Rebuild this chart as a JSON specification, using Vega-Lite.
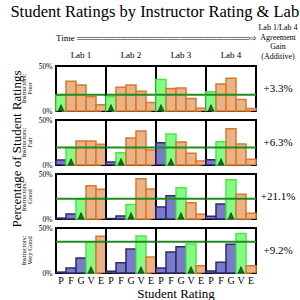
{
  "$schema": "https://vega.github.io/schema/vega-lite/v6.json",
  "padding": {"left": 10, "right": 2, "top": 3, "bottom": 2},
  "bounds": "flush",
  "config": {
    "font": "Liberation Serif",
    "view": {"stroke": "black", "strokeWidth": 2},
    "axis": {"labelFont": "Liberation Serif", "titleFont": "Liberation Serif", "titleFontWeight": "normal", "labelColor": "black", "titleColor": "black"},
    "header": {"labelFont": "Liberation Serif", "titleFont": "Liberation Serif", "titleFontWeight": "normal", "labelColor": "black", "titleColor": "black"}
  },
  "title": {"text": "Student Ratings by Instructor Rating & Lab", "font": "Liberation Serif", "fontSize": 16.5, "fontWeight": "normal", "color": "black", "anchor": "middle", "offset": 3},
  "data": {"values": [
    {"instructor": "Poor", "lab": "Lab 1", "rating": "P", "pct": 18},
    {"instructor": "Poor", "lab": "Lab 1", "rating": "F", "pct": 33},
    {"instructor": "Poor", "lab": "Lab 1", "rating": "G", "pct": 29},
    {"instructor": "Poor", "lab": "Lab 1", "rating": "V", "pct": 16},
    {"instructor": "Poor", "lab": "Lab 1", "rating": "E", "pct": 7},
    {"instructor": "Poor", "lab": "Lab 2", "rating": "P", "pct": 16},
    {"instructor": "Poor", "lab": "Lab 2", "rating": "F", "pct": 26.5},
    {"instructor": "Poor", "lab": "Lab 2", "rating": "G", "pct": 29},
    {"instructor": "Poor", "lab": "Lab 2", "rating": "V", "pct": 22},
    {"instructor": "Poor", "lab": "Lab 2", "rating": "E", "pct": 9.5},
    {"instructor": "Poor", "lab": "Lab 3", "rating": "P", "pct": 35},
    {"instructor": "Poor", "lab": "Lab 3", "rating": "F", "pct": 25},
    {"instructor": "Poor", "lab": "Lab 3", "rating": "G", "pct": 25.5},
    {"instructor": "Poor", "lab": "Lab 3", "rating": "V", "pct": 14},
    {"instructor": "Poor", "lab": "Lab 3", "rating": "E", "pct": 3},
    {"instructor": "Poor", "lab": "Lab 4", "rating": "P", "pct": 21.3},
    {"instructor": "Poor", "lab": "Lab 4", "rating": "F", "pct": 30},
    {"instructor": "Poor", "lab": "Lab 4", "rating": "G", "pct": 36.5},
    {"instructor": "Poor", "lab": "Lab 4", "rating": "V", "pct": 12.9},
    {"instructor": "Poor", "lab": "Lab 4", "rating": "E", "pct": 2.7},
    {"instructor": "Fair", "lab": "Lab 1", "rating": "P", "pct": 5.6},
    {"instructor": "Fair", "lab": "Lab 1", "rating": "F", "pct": 19.5},
    {"instructor": "Fair", "lab": "Lab 1", "rating": "G", "pct": 26.7},
    {"instructor": "Fair", "lab": "Lab 1", "rating": "V", "pct": 26.7},
    {"instructor": "Fair", "lab": "Lab 1", "rating": "E", "pct": 23},
    {"instructor": "Fair", "lab": "Lab 2", "rating": "P", "pct": 3.3},
    {"instructor": "Fair", "lab": "Lab 2", "rating": "F", "pct": 13.7},
    {"instructor": "Fair", "lab": "Lab 2", "rating": "G", "pct": 30},
    {"instructor": "Fair", "lab": "Lab 2", "rating": "V", "pct": 37.8},
    {"instructor": "Fair", "lab": "Lab 2", "rating": "E", "pct": 16.7},
    {"instructor": "Fair", "lab": "Lab 3", "rating": "P", "pct": 24.8},
    {"instructor": "Fair", "lab": "Lab 3", "rating": "F", "pct": 34.4},
    {"instructor": "Fair", "lab": "Lab 3", "rating": "G", "pct": 25.6},
    {"instructor": "Fair", "lab": "Lab 3", "rating": "V", "pct": 13},
    {"instructor": "Fair", "lab": "Lab 3", "rating": "E", "pct": 4.4},
    {"instructor": "Fair", "lab": "Lab 4", "rating": "P", "pct": 5.9},
    {"instructor": "Fair", "lab": "Lab 4", "rating": "F", "pct": 25.8},
    {"instructor": "Fair", "lab": "Lab 4", "rating": "G", "pct": 40.4},
    {"instructor": "Fair", "lab": "Lab 4", "rating": "V", "pct": 23.3},
    {"instructor": "Fair", "lab": "Lab 4", "rating": "E", "pct": 6.3},
    {"instructor": "Good", "lab": "Lab 1", "rating": "P", "pct": 1},
    {"instructor": "Good", "lab": "Lab 1", "rating": "F", "pct": 5.5},
    {"instructor": "Good", "lab": "Lab 1", "rating": "G", "pct": 22.5},
    {"instructor": "Good", "lab": "Lab 1", "rating": "V", "pct": 37},
    {"instructor": "Good", "lab": "Lab 1", "rating": "E", "pct": 33},
    {"instructor": "Good", "lab": "Lab 2", "rating": "P", "pct": 0.5},
    {"instructor": "Good", "lab": "Lab 2", "rating": "F", "pct": 3.3},
    {"instructor": "Good", "lab": "Lab 2", "rating": "G", "pct": 16},
    {"instructor": "Good", "lab": "Lab 2", "rating": "V", "pct": 44.8},
    {"instructor": "Good", "lab": "Lab 2", "rating": "E", "pct": 33.3},
    {"instructor": "Good", "lab": "Lab 3", "rating": "P", "pct": 13.3},
    {"instructor": "Good", "lab": "Lab 3", "rating": "F", "pct": 25.9},
    {"instructor": "Good", "lab": "Lab 3", "rating": "G", "pct": 34.8},
    {"instructor": "Good", "lab": "Lab 3", "rating": "V", "pct": 18.1},
    {"instructor": "Good", "lab": "Lab 3", "rating": "E", "pct": 5.2},
    {"instructor": "Good", "lab": "Lab 4", "rating": "P", "pct": 3},
    {"instructor": "Good", "lab": "Lab 4", "rating": "F", "pct": 16.7},
    {"instructor": "Good", "lab": "Lab 4", "rating": "G", "pct": 43.6},
    {"instructor": "Good", "lab": "Lab 4", "rating": "V", "pct": 27.4},
    {"instructor": "Good", "lab": "Lab 4", "rating": "E", "pct": 6.3},
    {"instructor": "Very Good", "lab": "Lab 1", "rating": "P", "pct": 1},
    {"instructor": "Very Good", "lab": "Lab 1", "rating": "F", "pct": 5.6},
    {"instructor": "Very Good", "lab": "Lab 1", "rating": "G", "pct": 16.7},
    {"instructor": "Very Good", "lab": "Lab 1", "rating": "V", "pct": 34.6},
    {"instructor": "Very Good", "lab": "Lab 1", "rating": "E", "pct": 40.7},
    {"instructor": "Very Good", "lab": "Lab 2", "rating": "P", "pct": 1.9},
    {"instructor": "Very Good", "lab": "Lab 2", "rating": "F", "pct": 11.5},
    {"instructor": "Very Good", "lab": "Lab 2", "rating": "G", "pct": 26.7},
    {"instructor": "Very Good", "lab": "Lab 2", "rating": "V", "pct": 41},
    {"instructor": "Very Good", "lab": "Lab 2", "rating": "E", "pct": 17.8},
    {"instructor": "Very Good", "lab": "Lab 3", "rating": "P", "pct": 5.6},
    {"instructor": "Very Good", "lab": "Lab 3", "rating": "F", "pct": 23.3},
    {"instructor": "Very Good", "lab": "Lab 3", "rating": "G", "pct": 29.3},
    {"instructor": "Very Good", "lab": "Lab 3", "rating": "V", "pct": 32.2},
    {"instructor": "Very Good", "lab": "Lab 3", "rating": "E", "pct": 8.1},
    {"instructor": "Very Good", "lab": "Lab 4", "rating": "P", "pct": 2.2},
    {"instructor": "Very Good", "lab": "Lab 4", "rating": "F", "pct": 11.9},
    {"instructor": "Very Good", "lab": "Lab 4", "rating": "G", "pct": 31.9},
    {"instructor": "Very Good", "lab": "Lab 4", "rating": "V", "pct": 43.8},
    {"instructor": "Very Good", "lab": "Lab 4", "rating": "E", "pct": 8.1},
    {"instructor": "Poor", "lab": "Lab 4", "gain": "+3.3%"},
    {"instructor": "Fair", "lab": "Lab 4", "gain": "+6.3%"},
    {"instructor": "Good", "lab": "Lab 4", "gain": "+21.1%"},
    {"instructor": "Very Good", "lab": "Lab 4", "gain": "+9.2%"},
    {"instructor": "Poor", "lab": "Lab 4", "note": "Lab 1/Lab 4\nAgreement\nGain\n(Additive)"},
    {"instructor": "Poor", "lab": "Lab 1", "time": "Time ═══════════════════════════⇨"}
  ]},
  "transform": [
    {"calculate": "indexof(['P','F','G','V','E'], datum.rating)", "as": "ri"},
    {"calculate": "indexof(['Poor','Fair','Good','Very Good'], datum.instructor)", "as": "ii"},
    {"calculate": "datum.ri < datum.ii ? 'below' : (datum.ri == datum.ii ? 'match' : 'above')", "as": "rel"},
    {"calculate": "(datum.lab == 'Lab 1' && datum.ri == datum.ii) ? datum.pct : 0", "as": "l1"},
    {"joinaggregate": [{"op": "max", "field": "l1", "as": "base"}], "groupby": ["instructor"]}
  ],
  "facet": {
    "row": {"field": "instructor", "type": "nominal", "sort": ["Poor", "Fair", "Good", "Very Good"],
      "title": "Percentage of Student Ratings",
      "header": {"labelOrient": "left", "titleOrient": "left", "labelExpr": "['Instructors:', datum.value]", "labelFontSize": 6.5, "labelLineHeight": 5.5, "labelPadding": 5, "titleFontSize": 13, "titlePadding": -13}},
    "column": {"field": "lab", "type": "nominal", "sort": ["Lab 1", "Lab 2", "Lab 3", "Lab 4"],
      "title": "Student Rating",
      "header": {"labelOrient": "top", "titleOrient": "bottom", "labelFontSize": 9, "labelPadding": 6, "titleFontSize": 13, "titlePadding": -7}}
  },
  "spacing": {"row": 9, "column": 0},
  "spec": {
    "width": 50,
    "height": 45,
    "layer": [
      {
        "transform": [{"filter": "isValid(datum.pct)"}],
        "mark": {"type": "bar", "strokeWidth": 1.5},
        "encoding": {
          "x": {"field": "rating", "type": "nominal", "scale": {"domain": ["P", "F", "G", "V", "E"], "paddingInner": 0, "paddingOuter": 0},
            "axis": {"title": null, "labelFontSize": 10, "labelAngle": 0, "ticks": false, "domain": false, "labelPadding": 2}},
          "y": {"field": "pct", "type": "quantitative", "scale": {"domain": [0, 50], "nice": false},
            "axis": {"title": null, "values": [0, 12.5, 25, 37.5, 50], "labelExpr": "(datum.value == 0 || datum.value == 50) ? datum.value + '%' : ''", "labelFontSize": 7.5, "labelPadding": 4, "ticks": false, "domain": false, "grid": true, "gridColor": "black", "gridWidth": 1.2, "gridDash": [5, 40, 5, 0], "zindex": 1}},
          "fill": {"field": "rel", "type": "nominal", "scale": {"domain": ["below", "match", "above"], "range": ["#7b79c9", "#84fc84", "#e9b385"]}, "legend": null},
          "stroke": {"field": "rel", "type": "nominal", "scale": {"domain": ["below", "match", "above"], "range": ["#2c2a6e", "#4ce64c", "#d9782e"]}, "legend": null}
        }
      },
      {
        "transform": [{"filter": "datum.rating == 'P'"}],
        "mark": {"type": "rule", "color": "#1f8c1f", "strokeWidth": 2},
        "encoding": {"y": {"field": "base", "type": "quantitative"}}
      },
      {
        "transform": [{"filter": "isValid(datum.pct) && datum.rel == 'match'"}],
        "mark": {"type": "point", "shape": "M-1,0L1,0L0,-2.2Z", "size": 34, "filled": true, "fill": "#1e6a1e", "stroke": "#0c300c", "strokeWidth": 0.6, "opacity": 1},
        "encoding": {"x": {"field": "rating", "type": "nominal"}, "y": {"datum": 0}}
      },
      {
        "transform": [{"filter": "isValid(datum.gain)"}],
        "mark": {"type": "text", "fontSize": 11, "dx": 27, "align": "center", "baseline": "middle", "color": "black"},
        "encoding": {"x": {"datum": "E"}, "y": {"datum": 25}, "text": {"field": "gain"}}
      },
      {
        "transform": [{"filter": "isValid(datum.note)"}],
        "mark": {"type": "text", "fontSize": 8, "lineHeight": 9.5, "lineBreak": "\n", "dx": 27, "dy": -42, "align": "center", "baseline": "top", "color": "black"},
        "encoding": {"x": {"datum": "E"}, "y": {"datum": 50}, "text": {"field": "note"}}
      },
      {
        "transform": [{"filter": "isValid(datum.time)"}],
        "mark": {"type": "text", "fontSize": 9, "dx": -5, "dy": -28, "align": "left", "baseline": "middle", "color": "black"},
        "encoding": {"x": {"datum": "P"}, "y": {"datum": 50}, "text": {"field": "time"}}
      }
    ]
  }
}
